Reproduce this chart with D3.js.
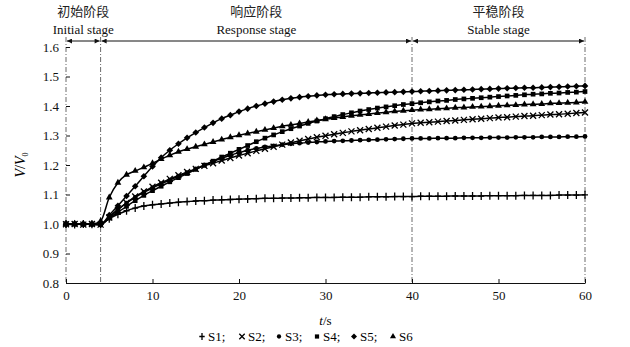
<!DOCTYPE html>
<html>
<head>
<meta charset="utf-8">
<script src="https://cdn.jsdelivr.net/npm/d3@7"></script>
<style>
  body { margin: 0; background: #fff; }
  svg { display: block; font-family: "Liberation Serif", serif; }
  .axis text { font-family: "Liberation Serif", serif; font-size: 13px; fill: #111; }
  .axis path, .axis line { stroke: #111; }
</style>
</head>
<body>
<svg id="chart" width="630" height="347"></svg>
<script>
// time points (s)
const times = [0,1,2,3,4,5,6,7,8,9,10,11,12,13,14,15,16,17,18,19,20,21,22,23,24,25,26,27,28,29,30,
  31,32,33,34,35,36,37,38,39,40,41,42,43,44,45,46,47,48,49,50,51,52,53,54,55,56,57,58,59,60];

const s1 = [1.0,0.998,1.0,0.999,1.0,1.018,1.033,1.045,1.054,1.061,1.065,1.068,1.071,1.074,1.076,1.078,1.079,1.081,1.082,1.083,1.084,
  1.085,1.086,1.087,1.087,1.088,1.088,1.089,1.089,1.09,1.09,1.09,1.091,1.091,1.091,1.092,1.092,1.092,1.093,1.093,1.093,
  1.094,1.094,1.094,1.094,1.095,1.095,1.095,1.095,1.096,1.096,1.096,1.096,1.097,1.097,1.097,1.097,1.098,1.098,1.098,1.099];
const s2 = [0.999,1.0,0.998,1.0,0.998,1.022,1.048,1.072,1.093,1.11,1.126,1.14,1.153,1.165,1.176,1.187,1.197,1.206,1.215,1.224,1.232,
  1.24,1.248,1.255,1.262,1.269,1.276,1.282,1.288,1.294,1.299,1.304,1.309,1.314,1.318,1.322,1.326,1.33,1.334,1.337,1.341,
  1.343,1.345,1.347,1.349,1.351,1.353,1.355,1.357,1.359,1.361,1.362,1.364,1.366,1.367,1.369,1.371,1.372,1.374,1.376,1.378];
const s3 = [1.0,0.999,1.001,0.998,0.997,1.025,1.05,1.071,1.09,1.107,1.122,1.136,1.149,1.162,1.174,1.187,1.2,1.212,1.223,1.233,1.242,
  1.25,1.256,1.261,1.265,1.269,1.272,1.274,1.276,1.278,1.28,1.281,1.282,1.283,1.284,1.285,1.286,1.287,1.288,1.289,1.29,
  1.29,1.29,1.291,1.291,1.291,1.292,1.292,1.292,1.293,1.293,1.293,1.294,1.294,1.294,1.295,1.295,1.295,1.296,1.296,1.297];
const s4 = [1.001,1.0,0.999,1.0,0.999,1.02,1.04,1.06,1.079,1.097,1.113,1.128,1.143,1.157,1.171,1.185,1.199,1.213,1.227,1.24,1.253,
  1.266,1.279,1.291,1.302,1.313,1.323,1.332,1.341,1.349,1.357,1.364,1.371,1.377,1.383,1.388,1.393,1.397,1.401,1.405,1.408,
  1.411,1.414,1.417,1.419,1.422,1.424,1.426,1.428,1.43,1.432,1.434,1.436,1.438,1.44,1.441,1.443,1.444,1.446,1.447,1.449];
const s5 = [0.998,1.0,1.0,0.999,0.998,1.03,1.062,1.095,1.128,1.162,1.195,1.225,1.25,1.272,1.292,1.31,1.327,1.343,1.357,1.369,1.381,
  1.391,1.4,1.408,1.415,1.421,1.426,1.43,1.433,1.436,1.438,1.44,1.441,1.442,1.443,1.444,1.445,1.446,1.447,1.448,1.449,
  1.45,1.451,1.452,1.453,1.454,1.455,1.456,1.457,1.458,1.459,1.46,1.461,1.462,1.462,1.463,1.464,1.465,1.466,1.467,1.468];
const s6 = [1.0,1.001,0.999,1.0,1.01,1.09,1.14,1.167,1.18,1.192,1.206,1.22,1.233,1.245,1.254,1.262,1.27,1.278,1.286,1.294,1.301,
  1.307,1.313,1.319,1.325,1.331,1.336,1.341,1.346,1.351,1.355,1.359,1.363,1.367,1.37,1.373,1.376,1.379,1.382,1.384,1.386,
  1.388,1.389,1.391,1.392,1.394,1.395,1.397,1.398,1.399,1.401,1.402,1.403,1.405,1.406,1.407,1.409,1.41,1.411,1.412,1.414];

const seriesNames = ['S1', 'S2', 'S3', 'S4', 'S5', 'S6'];
const seriesValues = [s1, s2, s3, s4, s5, s6];
const markerKinds = ['plus', 'cross', 'circle', 'square', 'diamond', 'triangle'];

const xTicks = [0, 10, 20, 30, 40, 50, 60];
const yTicks = [0.8, 0.9, 1.0, 1.1, 1.2, 1.3, 1.4, 1.5, 1.6];

// stage boundaries and labels
const stageBounds = [0, 4, 40, 60];
const stageCn = ['初始阶段', '响应阶段', '平稳阶段'];
const stageEn = ['Initial stage', 'Response stage', 'Stable stage'];

const svg = d3.select('#chart');
const margin = { left: 66, right: 45, top: 47, bottom: 64 };
const width = 630 - margin.left - margin.right;
const height = 347 - margin.top - margin.bottom;

const x = d3.scaleLinear().domain([0, 60]).range([margin.left, margin.left + width]);
const y = d3.scaleLinear().domain([0.8, 1.6]).range([margin.top + height, margin.top]);

// dashed stage lines
const arrowY = 41;
svg.append('g')
  .selectAll('line')
  .data(stageBounds)
  .join('line')
  .attr('x1', d => x(d)).attr('x2', d => x(d))
  .attr('y1', arrowY - 4).attr('y2', y(0.8))
  .attr('stroke', '#6a6a6a')
  .attr('stroke-width', 1)
  .attr('stroke-dasharray', '5,2,1,2');

// arrows between boundaries
const defs = svg.append('defs');
defs.append('marker')
  .attr('id', 'ah')
  .attr('viewBox', '0 0 10 10')
  .attr('refX', 10).attr('refY', 5)
  .attr('markerWidth', 7).attr('markerHeight', 5)
  .attr('markerUnits', 'userSpaceOnUse')
  .attr('orient', 'auto-start-reverse')
  .append('path')
  .attr('d', 'M0,0L10,5L0,10Z')
  .attr('fill', '#111');

const segs = d3.pairs(stageBounds);
svg.append('g')
  .selectAll('line')
  .data(segs)
  .join('line')
  .attr('x1', d => x(d[0]) + 1).attr('x2', d => x(d[1]) - 1)
  .attr('y1', arrowY).attr('y2', arrowY)
  .attr('stroke', '#111')
  .attr('stroke-width', 1)
  .attr('marker-start', 'url(#ah)')
  .attr('marker-end', 'url(#ah)');

const stageG = svg.append('g');
stageG.selectAll('text.cn')
  .data(segs)
  .join('text')
  .attr('class', 'cn')
  .attr('x', d => (x(d[0]) + x(d[1])) / 2)
  .attr('y', 16)
  .attr('text-anchor', 'middle')
  .attr('font-family', '"Noto Sans CJK SC", sans-serif')
  .attr('font-size', 13)
  .attr('fill', '#222')
  .text((d, i) => stageCn[i]);
stageG.selectAll('text.en')
  .data(segs)
  .join('text')
  .attr('class', 'en')
  .attr('x', d => (x(d[0]) + x(d[1])) / 2)
  .attr('y', 34)
  .attr('text-anchor', 'middle')
  .attr('font-size', 13)
  .attr('fill', '#111')
  .text((d, i) => stageEn[i]);

// axes
svg.append('g')
  .attr('class', 'axis')
  .attr('transform', `translate(0,${y(0.8)})`)
  .call(d3.axisBottom(x).tickValues(xTicks).tickSizeInner(-4).tickSizeOuter(0).tickPadding(8))
  .call(g => g.select('.domain').attr('stroke-width', 1.2));

svg.append('g')
  .attr('class', 'axis')
  .attr('transform', `translate(${x(0)},0)`)
  .call(d3.axisLeft(y).tickValues(yTicks).tickFormat(d3.format('.1f')).tickSizeInner(-4).tickSizeOuter(0).tickPadding(7))
  .call(g => g.select('.domain').remove());

// axis titles
svg.append('text')
  .attr('x', x(30))
  .attr('y', 325)
  .attr('text-anchor', 'middle')
  .attr('font-size', 13)
  .html('<tspan font-style="italic">t</tspan>/s');

svg.append('text')
  .attr('transform', `translate(25,${y(1.2)}) rotate(-90)`)
  .attr('text-anchor', 'middle')
  .attr('font-size', 14)
  .html('<tspan font-style="italic">V</tspan>/<tspan font-style="italic">V</tspan><tspan font-size="8" dy="3">0</tspan>');

// marker drawing
function drawMarker(sel, kind, s) {
  const k = s || 1;
  if (kind === 'plus') {
    sel.append('path').attr('d', `M${-3 * k},0H${3 * k}M0,${-4 * k}V${4 * k}`)
      .attr('stroke', '#000').attr('stroke-width', 1.3).attr('fill', 'none');
  } else if (kind === 'cross') {
    sel.append('path').attr('d', `M${-3 * k},${-3 * k}L${3 * k},${3 * k}M${-3 * k},${3 * k}L${3 * k},${-3 * k}`)
      .attr('stroke', '#000').attr('stroke-width', 1.3).attr('fill', 'none');
  } else if (kind === 'circle') {
    sel.append('path').attr('d', d3.symbol(d3.symbolCircle, 18 * k * k)()).attr('fill', '#000');
  } else if (kind === 'square') {
    sel.append('path').attr('d', d3.symbol(d3.symbolSquare, 22 * k * k)()).attr('fill', '#000');
  } else if (kind === 'diamond') {
    sel.append('path').attr('d', d3.symbol(d3.symbolSquare, 22 * k * k)()).attr('transform', 'rotate(45)').attr('fill', '#000');
  } else if (kind === 'triangle') {
    sel.append('path').attr('d', d3.symbol(d3.symbolTriangle, 20 * k * k)()).attr('fill', '#000');
  }
}

const line = d3.line().x((d, i) => x(times[i])).y(d => y(d)).curve(d3.curveMonotoneX);

const plot = svg.append('g');
seriesValues.forEach((vals, si) => {
  const g = plot.append('g').attr('class', 'series-' + seriesNames[si]);
  g.append('path')
    .datum(vals)
    .attr('d', line)
    .attr('fill', 'none')
    .attr('stroke', '#000')
    .attr('stroke-width', 1.5);
  g.selectAll('g.pt')
    .data(vals)
    .join('g')
    .attr('class', 'pt')
    .attr('transform', (d, i) => `translate(${x(times[i])},${y(d)})`)
    .each(function () { drawMarker(d3.select(this), markerKinds[si]); });
});

// legend
const legend = svg.append('g').attr('transform', 'translate(0,341)');
const legendX = [202, 242, 279, 317, 354, 393];
seriesNames.forEach((name, i) => {
  const item = legend.append('g').attr('transform', `translate(${legendX[i]},0)`);
  drawMarker(item.append('g').attr('transform', 'translate(0,-4.5)'), markerKinds[i], 0.9);
  item.append('text')
    .attr('x', 6)
    .attr('y', 0)
    .attr('font-size', 13)
    .text(name + (i < seriesNames.length - 1 ? ';' : ''));
});
</script>
</body>
</html>
